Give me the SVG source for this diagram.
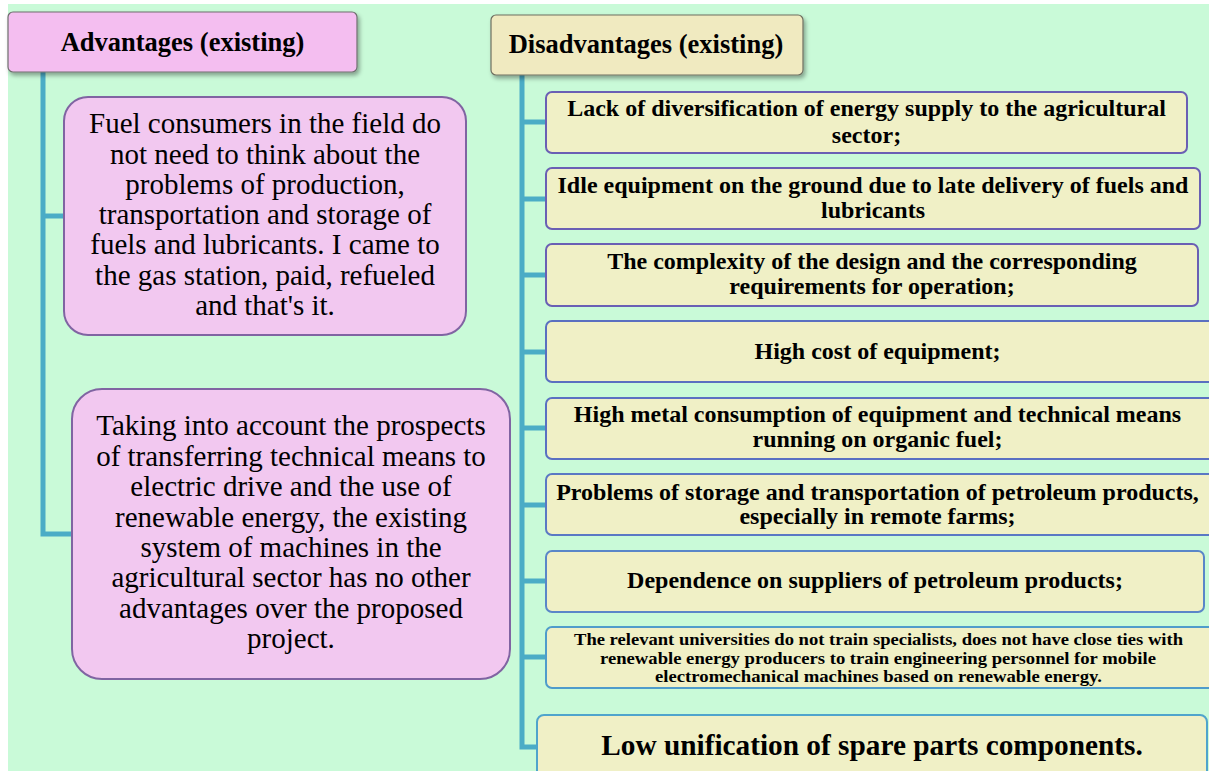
<svg xmlns="http://www.w3.org/2000/svg" width="1209" height="771" viewBox="0 0 1209 771">
<defs>
<filter id="sh" x="-5%" y="-10%" width="112%" height="130%">
<feDropShadow dx="2" dy="3" stdDeviation="2" flood-color="#000" flood-opacity="0.35"/>
</filter>
<style>
text{font-family:"Liberation Serif","Times New Roman",serif;fill:#000;text-anchor:middle}
.hd{font-size:26.5px;font-weight:bold}
.pk{font-size:29px}
.yb{font-size:24px;font-weight:bold}
.sm{font-size:16.5px;font-weight:bold}
.lg{font-size:29.3px;font-weight:bold}
.conn{stroke:#4bacc6;stroke-width:5;fill:none}
.pbox{fill:#f2c8f0;stroke:#8064a2;stroke-width:2}
.ybox{fill:#f0f0c6;stroke-width:2}
</style>
</defs>
<rect x="0" y="0" width="1209" height="771" fill="#ffffff"/>
<rect x="8" y="4" width="1201" height="767" fill="#c9fad8"/>

<g id="connectors">
<path class="conn" d="M43 72 V534 H73"/>
<path class="conn" d="M43 216 H65"/>
<path class="conn" d="M522 75 V747 H538"/>
<path class="conn" d="M522 122 H547"/>
<path class="conn" d="M522 199 H547"/>
<path class="conn" d="M522 275 H547"/>
<path class="conn" d="M522 352 H547"/>
<path class="conn" d="M522 428 H547"/>
<path class="conn" d="M522 505 H547"/>
<path class="conn" d="M522 581 H547"/>
<path class="conn" d="M522 657 H547"/>
</g>

<g id="adv-header">
<rect x="8" y="12" width="349" height="60" rx="5" fill="#f4bef0" stroke="#6e6e6e" stroke-width="1.2" filter="url(#sh)"/>
<text class="hd" x="182.5" y="51">Advantages (existing)</text>
</g>

<g id="adv-1">
<rect class="pbox" x="64" y="97" width="402" height="238" rx="24"/>
<text class="pk" x="265" y="133">Fuel consumers in the field do</text>
<text class="pk" x="265" y="163.5">not need to think about the</text>
<text class="pk" x="265" y="193.8">problems of production,</text>
<text class="pk" x="265" y="224">transportation and storage of</text>
<text class="pk" x="265" y="254.2">fuels and lubricants. I came to</text>
<text class="pk" x="265" y="284.5">the gas station, paid, refueled</text>
<text class="pk" x="265" y="315">and that's it.</text>
</g>

<g id="adv-2">
<rect class="pbox" x="72" y="389" width="438" height="290" rx="30"/>
<text class="pk" x="291" y="435">Taking into account the prospects</text>
<text class="pk" x="291" y="465.5">of transferring technical means to</text>
<text class="pk" x="291" y="496">electric drive and the use of</text>
<text class="pk" x="291" y="526.5">renewable energy, the existing</text>
<text class="pk" x="291" y="557">system of machines in the</text>
<text class="pk" x="291" y="587">agricultural sector has no other</text>
<text class="pk" x="291" y="617.5">advantages over the proposed</text>
<text class="pk" x="291" y="648">project.</text>
</g>

<g id="dis-header">
<rect x="491" y="15" width="312" height="60" rx="5" fill="#f0eac0" stroke="#6e6e60" stroke-width="1.2" filter="url(#sh)"/>
<text class="hd" x="646" y="53">Disadvantages (existing)</text>
</g>

<g id="dis-1">
<rect class="ybox" x="546" y="92" width="641" height="61" rx="6" stroke="#6a5fb4"/>
<text class="yb" x="866.5" y="116">Lack of diversification of energy supply to the agricultural</text>
<text class="yb" x="866.5" y="143">sector;</text>
</g>

<g id="dis-2">
<rect class="ybox" x="546" y="168" width="654" height="61" rx="6" stroke="#6a5fb4"/>
<text class="yb" x="873" y="193">Idle equipment on the ground due to late delivery of fuels and</text>
<text class="yb" x="873" y="218">lubricants</text>
</g>

<g id="dis-3">
<rect class="ybox" x="546" y="244" width="652" height="62" rx="6" stroke="#6a5fb4"/>
<text class="yb" x="872" y="269">The complexity of the design and the corresponding</text>
<text class="yb" x="872" y="294">requirements for operation;</text>
</g>

<g id="dis-4">
<rect class="ybox" x="546" y="321" width="668" height="61" rx="6" stroke="#5a6fc0"/>
<text class="yb" x="877.5" y="359">High cost of equipment;</text>
</g>

<g id="dis-5">
<rect class="ybox" x="546" y="398" width="668" height="61" rx="6" stroke="#5a70c2"/>
<text class="yb" x="877.5" y="422">High metal consumption of equipment and technical means</text>
<text class="yb" x="877.5" y="447">running on organic fuel;</text>
</g>

<g id="dis-6">
<rect class="ybox" x="546" y="474" width="668" height="61" rx="6" stroke="#5a78c4"/>
<text class="yb" x="877.5" y="500">Problems of storage and transportation of petroleum products,</text>
<text class="yb" x="877.5" y="524">especially in remote farms;</text>
</g>

<g id="dis-7">
<rect class="ybox" x="546" y="551" width="658" height="61" rx="6" stroke="#5a86c8"/>
<text class="yb" x="875" y="588">Dependence on suppliers of petroleum products;</text>
</g>

<g id="dis-8">
<rect class="ybox" x="546" y="627" width="668" height="61" rx="6" stroke="#4f9ccb"/>
<text class="sm" x="878.5" y="645" textLength="609" lengthAdjust="spacingAndGlyphs">The relevant universities do not train specialists, does not have close ties with</text>
<text class="sm" x="878" y="663.5" textLength="556" lengthAdjust="spacingAndGlyphs">renewable energy producers to train engineering personnel for mobile</text>
<text class="sm" x="878.5" y="682" textLength="447" lengthAdjust="spacingAndGlyphs">electromechanical machines based on renewable energy.</text>
</g>

<g id="dis-9">
<rect class="ybox" x="537" y="715" width="670" height="80" rx="7" stroke="#4fa4cc"/>
<text class="lg" x="872" y="755">Low unification of spare parts components.</text>
</g>
</svg>
